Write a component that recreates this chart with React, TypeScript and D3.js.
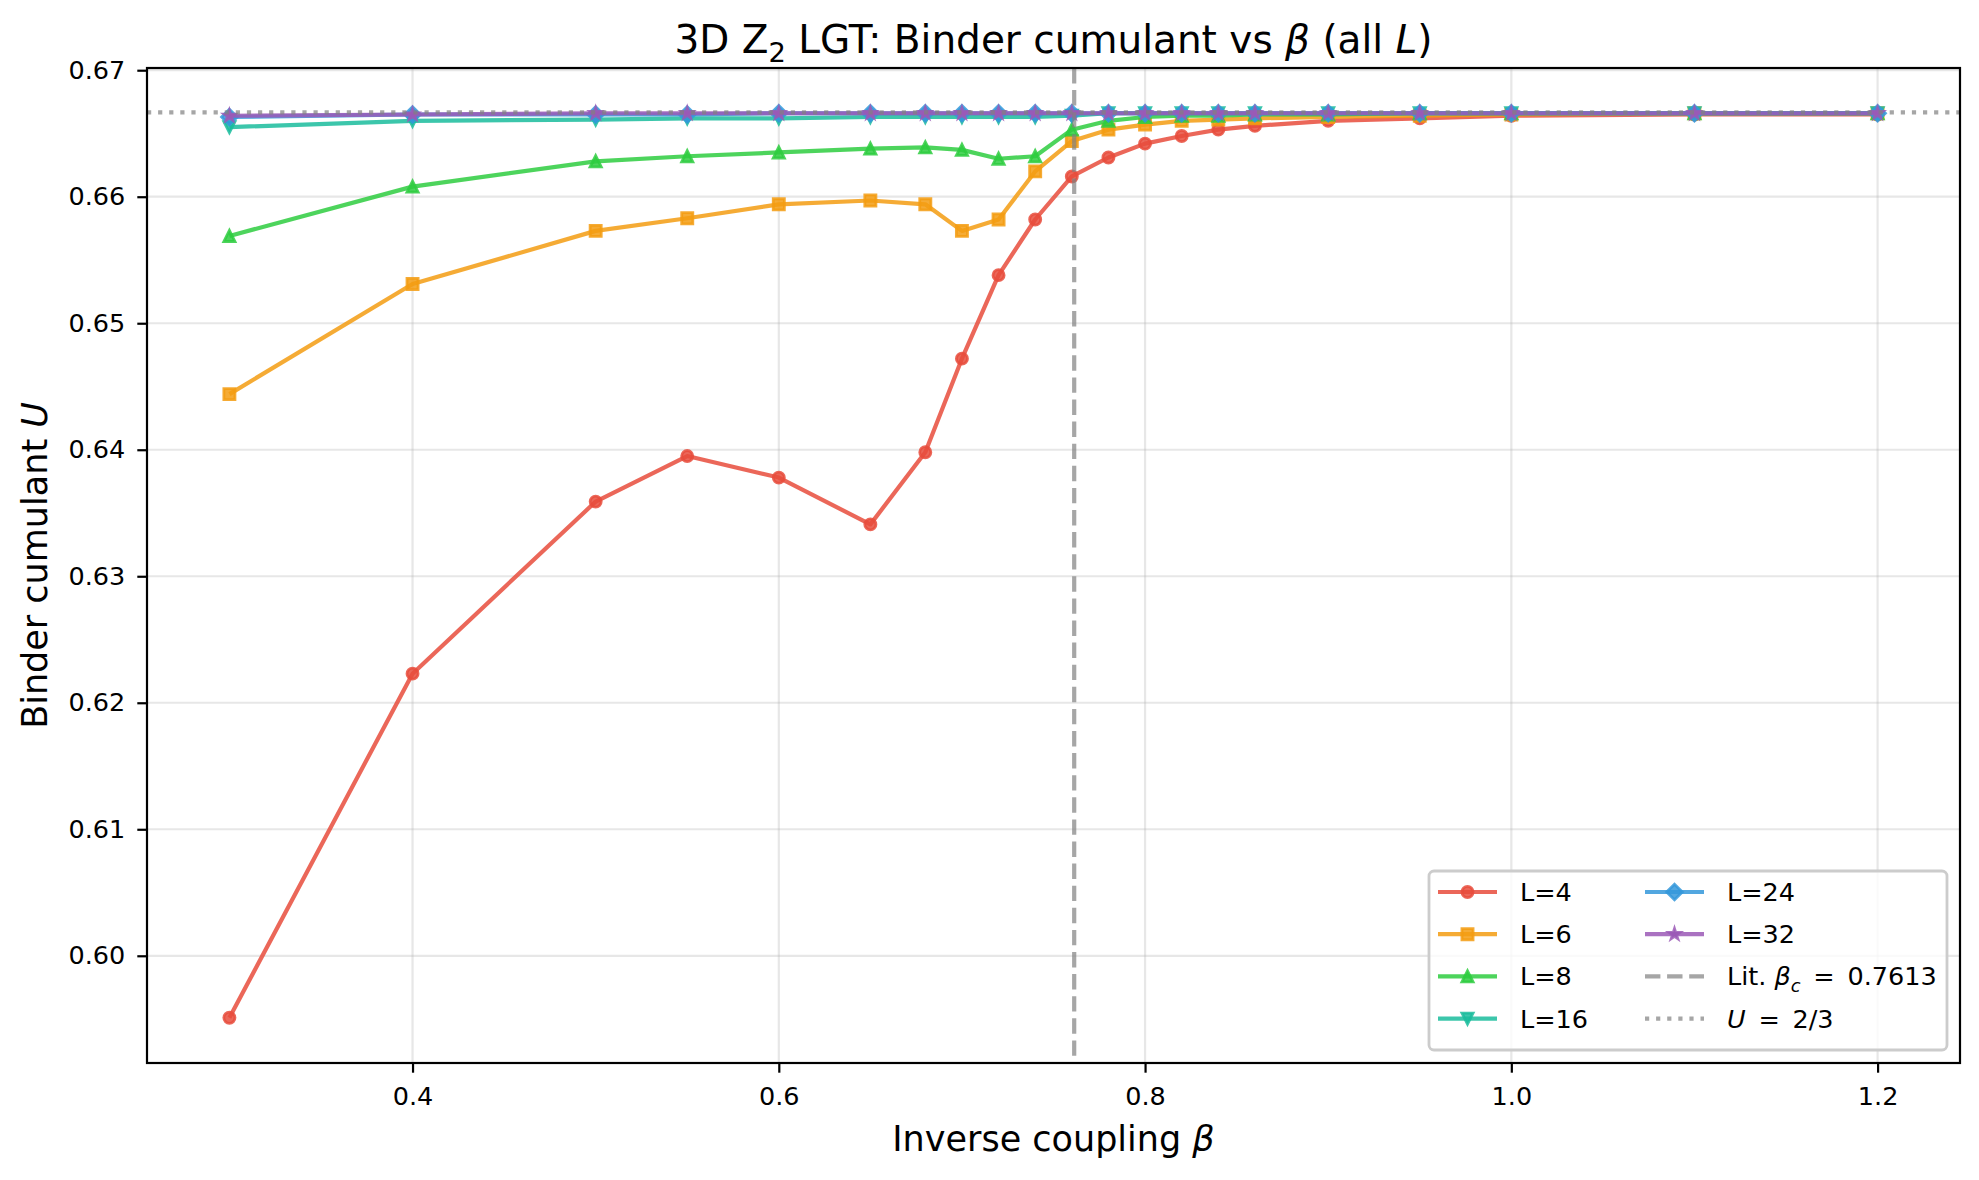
import React, { useEffect, useRef } from 'react'
import * as d3 from 'd3'

// inverse coupling values (shared by all lattice sizes)
const betas = [0.3, 0.4, 0.5, 0.55, 0.6, 0.65, 0.68, 0.7, 0.72, 0.74, 0.76, 0.78, 0.8, 0.82, 0.84, 0.86, 0.9, 0.95, 1.0, 1.1, 1.2]

// Binder cumulant, one array per L
const u4 = [0.5951, 0.6223, 0.6359, 0.6395, 0.6378, 0.6341, 0.6398, 0.6472, 0.6538, 0.6582, 0.6616, 0.6631, 0.6642, 0.6648, 0.6653, 0.6656, 0.6660, 0.6662, 0.6664, 0.6665, 0.6665]
const u6 = [0.6444, 0.6531, 0.6573, 0.6583, 0.6594, 0.6597, 0.6594, 0.6573, 0.6582, 0.6620, 0.6644, 0.6653, 0.6657, 0.6660, 0.6661, 0.6662, 0.6663, 0.6664, 0.6665, 0.6666, 0.6666]
const u8 = [0.6569, 0.6608, 0.6628, 0.6632, 0.6635, 0.6638, 0.6639, 0.6637, 0.6630, 0.6632, 0.6653, 0.6660, 0.6663, 0.6664, 0.6664, 0.6665, 0.6665, 0.6666, 0.6666, 0.6666, 0.6666]
const u16 = [0.6655, 0.6660, 0.6661, 0.6662, 0.6662, 0.6663, 0.6663, 0.6663, 0.6663, 0.6663, 0.6664, 0.6666, 0.6666, 0.6666, 0.6666, 0.6666, 0.6666, 0.6666, 0.6666, 0.6666, 0.6666]
const u24 = [0.6663, 0.6665, 0.6665, 0.6665, 0.6666, 0.6666, 0.6666, 0.6666, 0.6666, 0.6666, 0.6666, 0.6666, 0.6666, 0.6666, 0.6666, 0.6666, 0.6666, 0.6666, 0.6666, 0.6666, 0.6666]
const u32 = [0.6664, 0.6665, 0.6666, 0.6666, 0.6666, 0.6666, 0.6666, 0.6666, 0.6666, 0.6666, 0.6666, 0.6666, 0.6666, 0.6666, 0.6666, 0.6666, 0.6666, 0.6666, 0.6666, 0.6666, 0.6666]

const seriesValues = [u4, u6, u8, u16, u24, u32]
const seriesNames = ['L=4', 'L=6', 'L=8', 'L=16', 'L=24', 'L=32']
const seriesColors = ['#e74c3c', '#f39c12', '#2ecc40', '#1abc9c', '#3498db', '#9b59b6']
const seriesMarkers = ['o', 's', '^', 'v', 'D', '*']

const xTicks = [0.4, 0.6, 0.8, 1.0, 1.2]
const yTicks = [0.60, 0.61, 0.62, 0.63, 0.64, 0.65, 0.66, 0.67]

const betaC = 0.7613
const uLimit = 2 / 3

const W = 1979
const H = 1180
const FONT = "'DejaVu Sans', sans-serif"

// matplotlib-like marker outlines, ms = marker size in px
function markerPath(kind: string, ms: number) {
  const h = ms / 2
  const p = d3.path()
  if (kind === 'o') {
    p.arc(0, 0, h, 0, Math.PI * 2)
  } else if (kind === 's') {
    p.rect(-h, -h, ms, ms)
  } else if (kind === '^') {
    p.moveTo(0, -h); p.lineTo(-h, h); p.lineTo(h, h); p.closePath()
  } else if (kind === 'v') {
    p.moveTo(0, h); p.lineTo(-h, -h); p.lineTo(h, -h); p.closePath()
  } else if (kind === 'D') {
    const d = ms * Math.SQRT1_2
    p.moveTo(0, -d); p.lineTo(d, 0); p.lineTo(0, d); p.lineTo(-d, 0); p.closePath()
  } else if (kind === '*') {
    for (let i = 0; i < 10; i++) {
      const a = -Math.PI / 2 + (i * Math.PI) / 5
      const r = i % 2 ? h * 0.381966 : h
      if (i === 0) p.moveTo(r * Math.cos(a), r * Math.sin(a))
      else p.lineTo(r * Math.cos(a), r * Math.sin(a))
    }
    p.closePath()
  }
  return p.toString()
}

type Run = { t: string; italic?: boolean; sub?: boolean }

// append text built from runs (italic math symbols, subscripts)
function richText(sel: d3.Selection<SVGTextElement, unknown, null, undefined>, runs: Run[], size: number) {
  let shifted = false
  runs.forEach(r => {
    const ts = sel.append('tspan').text(r.t)
    if (r.italic) ts.attr('font-style', 'italic')
    if (r.sub) {
      ts.attr('font-size', size * 0.7).attr('dy', size * 0.24)
      shifted = true
    } else if (shifted) {
      ts.attr('dy', -size * 0.24)
      shifted = false
    }
  })
}

const App: React.FC = () => {
  const svgRef = useRef<SVGSVGElement>(null)

  useEffect(() => {
    const svg = d3.select(svgRef.current)
    svg.selectAll('*').remove()

    const margin = { top: 68, right: 19, bottom: 117, left: 147 }
    const x0 = margin.left
    const x1 = W - margin.right
    const y0 = margin.top
    const y1 = H - margin.bottom

    // matplotlib default 5% margins
    const xMin = d3.min(betas)!, xMax = d3.max(betas)!
    const allU = seriesValues.flat()
    const yMin = d3.min(allU)!, yMax = d3.max(allU)!
    const xPad = (xMax - xMin) * 0.05
    const yPad = (yMax - yMin) * 0.05

    const xScale = d3.scaleLinear().domain([xMin - xPad, xMax + xPad]).range([x0, x1])
    const yScale = d3.scaleLinear().domain([yMin - yPad, yMax + yPad]).range([y1, y0])

    svg.append('rect').attr('width', W).attr('height', H).attr('fill', 'white')

    // grid
    const grid = svg.append('g')
    grid.selectAll('.gx').data(xTicks).enter().append('line')
      .attr('x1', d => xScale(d)).attr('x2', d => xScale(d))
      .attr('y1', y0).attr('y2', y1)
      .attr('stroke', '#b0b0b0').attr('stroke-opacity', 0.3).attr('stroke-width', 2.2)
    grid.selectAll('.gy').data(yTicks).enter().append('line')
      .attr('x1', x0).attr('x2', x1)
      .attr('y1', d => yScale(d)).attr('y2', d => yScale(d))
      .attr('stroke', '#b0b0b0').attr('stroke-opacity', 0.3).attr('stroke-width', 2.2)

    const clip = svg.append('clipPath').attr('id', 'plot-clip')
    clip.append('rect').attr('x', x0).attr('y', y0).attr('width', x1 - x0).attr('height', y1 - y0)
    const plot = svg.append('g').attr('clip-path', 'url(#plot-clip)')

    const line = d3.line<number>()
      .x((_, i) => xScale(betas[i]))
      .y(d => yScale(d))

    const ms = 11.1
    seriesValues.forEach((vals, si) => {
      const c = seriesColors[si]
      const g = plot.append('g')
      g.append('path')
        .datum(vals)
        .attr('d', line)
        .attr('fill', 'none')
        .attr('stroke', c)
        .attr('stroke-opacity', 0.85)
        .attr('stroke-width', 4.2)
        .attr('stroke-linejoin', 'round')
      g.selectAll('.m').data(vals).enter().append('path')
        .attr('d', markerPath(seriesMarkers[si], ms))
        .attr('transform', (d, i) => `translate(${xScale(betas[i])},${yScale(d)})`)
        .attr('fill', c).attr('fill-opacity', 0.85)
        .attr('stroke', c).attr('stroke-opacity', 0.85)
        .attr('stroke-width', 2.8)
    })

    // reference lines
    plot.append('line')
      .attr('x1', xScale(betaC)).attr('x2', xScale(betaC))
      .attr('y1', y0).attr('y2', y1)
      .attr('stroke', '#808080').attr('stroke-opacity', 0.7)
      .attr('stroke-width', 4.2).attr('stroke-dasharray', '15.4,6.7')
    plot.append('line')
      .attr('x1', x0).attr('x2', x1)
      .attr('y1', yScale(uLimit)).attr('y2', yScale(uLimit))
      .attr('stroke', '#808080').attr('stroke-opacity', 0.7)
      .attr('stroke-width', 4.2).attr('stroke-dasharray', '4.2,6.9')

    // axes
    const xAxis = svg.append('g')
      .attr('transform', `translate(0,${y1})`)
      .call(d3.axisBottom(xScale).tickValues(xTicks).tickFormat(d3.format('.1f')).tickSize(9.7).tickPadding(14))
    const yAxis = svg.append('g')
      .attr('transform', `translate(${x0},0)`)
      .call(d3.axisLeft(yScale).tickValues(yTicks).tickFormat(d3.format('.2f')).tickSize(9.7).tickPadding(12))
    ;[xAxis, yAxis].forEach(a => {
      a.select('.domain').remove()
      a.selectAll('.tick line').attr('stroke', 'black').attr('stroke-width', 2.2)
      a.selectAll('.tick text').attr('font-family', FONT).attr('font-size', 25.5).attr('fill', 'black')
    })

    // frame
    svg.append('rect')
      .attr('x', x0).attr('y', y0).attr('width', x1 - x0).attr('height', y1 - y0)
      .attr('fill', 'none').attr('stroke', 'black').attr('stroke-width', 2.2)

    // title & labels
    const title = svg.append('text')
      .attr('x', (x0 + x1) / 2).attr('y', 53)
      .attr('text-anchor', 'middle').attr('font-family', FONT).attr('font-size', 39)
    richText(title, [
      { t: '3D Z' }, { t: '2', sub: true }, { t: ' LGT: Binder cumulant vs ' },
      { t: 'β', italic: true }, { t: ' (all ' }, { t: 'L', italic: true }, { t: ')' }
    ], 39)

    const xl = svg.append('text')
      .attr('x', (x0 + x1) / 2).attr('y', 1151)
      .attr('text-anchor', 'middle').attr('font-family', FONT).attr('font-size', 35)
    richText(xl, [{ t: 'Inverse coupling ' }, { t: 'β', italic: true }], 35)

    const yl = svg.append('text')
      .attr('transform', `translate(47,${(y0 + y1) / 2}) rotate(-90)`)
      .attr('text-anchor', 'middle').attr('font-family', FONT).attr('font-size', 35)
    richText(yl, [{ t: 'Binder cumulant ' }, { t: 'U', italic: true }], 35)

    // legend
    const lg = svg.append('g')
    const lx = 1429, ly = 871, lw = 518, lh = 179
    lg.append('rect')
      .attr('x', lx).attr('y', ly).attr('width', lw).attr('height', lh)
      .attr('rx', 5).attr('ry', 5)
      .attr('fill', 'white').attr('fill-opacity', 0.8)
      .attr('stroke', '#cccccc').attr('stroke-width', 2.8)

    const rowY = (r: number) => ly + 21 + r * 42.2
    const colX = [lx + 9, lx + 216]
    const handleW = 59
    const textGap = 23

    type Entry = { runs: Run[]; series?: number; style?: 'dash' | 'dot' }
    const entries: Entry[] = seriesNames.map((n, i) => ({ runs: [{ t: n }], series: i }))
    // mathtext puts wider gaps around "="
    entries.push({ runs: [{ t: 'Lit. ' }, { t: 'β', italic: true }, { t: 'c', italic: true, sub: true }, { t: `\u2002=\u2002${betaC}` }], style: 'dash' })
    entries.push({ runs: [{ t: 'U', italic: true }, { t: '\u2002=\u20022/3' }], style: 'dot' })

    entries.forEach((e, k) => {
      const col = k < 4 ? 0 : 1
      const row = k % 4
      const hx = colX[col]
      const yy = rowY(row)
      if (e.series !== undefined) {
        const c = seriesColors[e.series]
        lg.append('line')
          .attr('x1', hx).attr('x2', hx + handleW).attr('y1', yy).attr('y2', yy)
          .attr('stroke', c).attr('stroke-opacity', 0.85).attr('stroke-width', 4.2)
        lg.append('path')
          .attr('d', markerPath(seriesMarkers[e.series], ms))
          .attr('transform', `translate(${hx + handleW / 2},${yy})`)
          .attr('fill', c).attr('fill-opacity', 0.85)
          .attr('stroke', c).attr('stroke-opacity', 0.85).attr('stroke-width', 2.8)
      } else {
        lg.append('line')
          .attr('x1', hx).attr('x2', hx + handleW).attr('y1', yy).attr('y2', yy)
          .attr('stroke', '#808080').attr('stroke-opacity', 0.7).attr('stroke-width', 4.2)
          .attr('stroke-dasharray', e.style === 'dash' ? '15.4,6.7' : '4.2,6.9')
      }
      const t = lg.append('text')
        .attr('x', hx + handleW + textGap).attr('y', yy + 9)
        .attr('font-family', FONT).attr('font-size', 25.5).attr('fill', 'black')
      richText(t, e.runs, 25.5)
    })
  }, [])

  return (
    <svg
      ref={svgRef}
      width={W}
      height={H}
      style={{ position: 'absolute', left: 0, top: 0 }}
    />
  )
}

export default App
